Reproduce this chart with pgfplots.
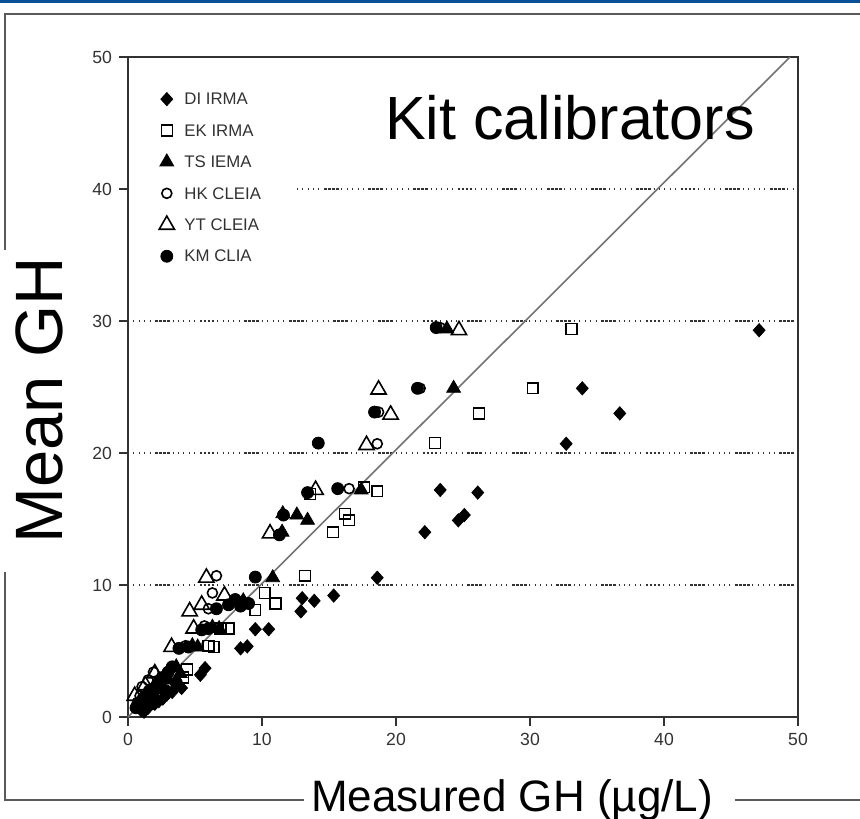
\documentclass[border=0pt]{standalone}
\usepackage{pgfplots}
\pgfplotsset{compat=1.18}
\usepackage{fontspec}
\setmainfont{Liberation Sans}
\setsansfont{Liberation Sans}
\definecolor{topblue}{RGB}{10,80,150}
\definecolor{framegray}{RGB}{90,90,90}
\definecolor{axgray}{RGB}{50,50,50}
\definecolor{linegray}{RGB}{115,115,115}
\begin{document}
\begin{tikzpicture}[x=1pt,y=1pt]
\path[use as bounding box] (-64,358.5) rectangle (366,-50.5);
\fill[topblue] (-64,358.5) rectangle (366,356.9);
\draw[framegray, line width=1pt] (366,351.5) -- (-61.5,351.5) -- (-61.5,-41.5) -- (366,-41.5);
\fill[white] (-64,233.5) rectangle (-19,72.5);
\fill[white] (88,-19.5) rectangle (303.5,-50.5);
\begin{axis}[
  anchor=south west,
  width=335pt, height=330pt, scale only axis,
  xmin=0, xmax=50, ymin=0, ymax=50,
  xtick={0,10,...,50}, ytick={0,10,...,50},
  xtick pos=bottom, ytick pos=left,
  tick align=outside, major tick length=4.5pt,
  axis line style={line width=0.9pt, axgray},
  tick style={line width=0.8pt, axgray},
  ticklabel style={font=\fontsize{8.8}{9}\selectfont, text=axgray},
  /pgf/number format/assume math mode=true,
  clip=false,
  legend cell align=left,
  legend image code/.code={\draw[#1] plot coordinates {(0pt,0pt)};},
  legend style={at={(0.037,0.956)}, anchor=north west, draw=none, fill=none,
    font=\fontsize{8.4}{9}\selectfont, text=axgray, row sep=7.0pt,
    nodes={inner sep=1pt, text height=6.2pt, text depth=0.5pt},
    /tikz/every even column/.append style={column sep=0pt},
    /tikz/every odd column/.append style={column sep=4pt}},
]
% grid lines
\addplot[forget plot, black!80, line width=0.6pt,
  dash pattern=on 0.5pt off 2.2pt on 0.5pt off 2.2pt on 0.5pt off 2.2pt on 0.5pt off 2.2pt on 0.5pt off 2.2pt on 1.4pt off 0.6pt on 1.4pt off 0.6pt on 1.4pt off 0.6pt on 1.4pt off 1.4pt]
  coordinates {(0,10) (50,10)};
\addplot[forget plot, black!80, line width=0.6pt,
  dash pattern=on 0.5pt off 2.2pt on 0.5pt off 2.2pt on 0.5pt off 2.2pt on 0.5pt off 2.2pt on 0.5pt off 2.2pt on 1.4pt off 0.6pt on 1.4pt off 0.6pt on 1.4pt off 0.6pt on 1.4pt off 1.4pt]
  coordinates {(0,20) (50,20)};
\addplot[forget plot, black!80, line width=0.6pt,
  dash pattern=on 0.5pt off 2.2pt on 0.5pt off 2.2pt on 0.5pt off 2.2pt on 0.5pt off 2.2pt on 0.5pt off 2.2pt on 1.4pt off 0.6pt on 1.4pt off 0.6pt on 1.4pt off 0.6pt on 1.4pt off 1.4pt]
  coordinates {(0,30) (50,30)};
\addplot[forget plot, black!80, line width=0.6pt,
  dash pattern=on 0.5pt off 2.2pt on 0.5pt off 2.2pt on 0.5pt off 2.2pt on 0.5pt off 2.2pt on 0.5pt off 2.2pt on 1.4pt off 0.6pt on 1.4pt off 0.6pt on 1.4pt off 0.6pt on 1.4pt off 1.4pt]
  coordinates {(12.6,40) (50,40)};
% identity line
\addplot[forget plot, linegray, line width=0.8pt] coordinates {(0,0) (49.4,50)};

% DI IRMA
\addplot[only marks, mark=diamond*, mark size=3.3pt, black, mark options={fill=black, xscale=1.2}] coordinates {
(47.1,29.3) (33.9,24.9) (36.7,23.0) (32.7,20.7) (23.3,17.2) (26.1,17.0)
(24.65,14.9) (25.1,15.3) (22.15,14.0) (18.6,10.55) (15.35,9.2) (13.0,9.0)
(13.9,8.8) (12.9,8.0) (9.5,6.65) (10.5,6.65) (8.4,5.2) (8.9,5.35)
(5.4,3.2) (5.75,3.7) (4.0,2.2) (3.3,1.9) (2.6,1.4) (2.0,1.0) (1.5,0.7) (1.0,0.5)
(3.6,2.5) (2.9,1.7) (2.3,1.2) (1.2,0.4)
};
\addlegendentry{DI IRMA}
% EK IRMA
\addplot[only marks, mark=square, mark size=2.7pt, black, mark options={fill=white, line width=0.7pt}] coordinates {
(33.1,29.4) (30.2,24.9) (26.2,23.0) (22.9,20.75) (18.6,17.1) (17.6,17.4)
(13.6,16.9) (16.2,15.4) (16.5,14.9) (15.3,14.0) (13.2,10.7) (10.2,9.4)
(11.0,8.6) (9.5,8.1) (7.5,6.7) (6.9,6.7) (6.0,5.4) (6.4,5.3) (4.1,3.0)
(4.4,3.6) (3.1,2.3) (2.7,1.8) (2.2,1.4) (1.6,1.0) (1.1,0.7)
};
\addlegendentry{EK IRMA}
% TS IEMA
\addplot[only marks, mark=triangle*, mark size=4pt, black, mark options={fill=black}] coordinates {
(23.8,29.4) (24.3,24.9) (17.4,17.2) (11.55,15.4) (12.6,15.3) (13.4,14.9)
(11.5,14.0) (10.8,10.55) (8.6,8.8) (6.8,6.7) (6.3,6.8) (5.2,5.3) (4.8,5.4)
(3.6,3.8) (2.5,2.4) (1.8,1.7) (1.2,1.1) (0.8,0.7) (3.0,2.8) (2.1,2.2)
(3.9,3.3) (1.5,1.4)
};
\addlegendentry{TS IEMA}
% HK CLEIA
\addplot[only marks, mark=o, mark size=2.5pt, black, mark options={fill=white, line width=0.8pt}] coordinates {
(23.3,29.5) (21.8,24.9) (18.7,23.1) (18.6,20.7) (16.5,17.3) (6.6,10.7)
(6.3,9.4) (6.0,8.2) (5.7,6.9) (4.3,5.4) (1.9,3.4) (1.5,2.8) (1.05,2.3)
(0.9,1.6) (0.7,1.1)
};
\addlegendentry{HK CLEIA}
% YT CLEIA
\addplot[only marks, mark=triangle, mark size=4.4pt, black, mark options={fill=white, line width=0.8pt}] coordinates {
(24.7,29.3) (18.7,24.8) (19.6,22.9) (17.8,20.6) (14.0,17.2) (10.6,13.9)
(5.85,10.55) (7.2,9.2) (5.5,8.5) (4.6,8.0) (4.9,6.7) (3.25,5.3) (2.0,3.3)
(1.3,2.4) (0.5,1.6) (0.8,1.0)
};
\addlegendentry{YT CLEIA}
% KM CLIA
\addplot[only marks, mark=*, mark size=3pt, black, mark options={fill=black}] coordinates {
(23.0,29.5) (21.6,24.9) (18.4,23.1) (14.2,20.75) (15.65,17.3) (13.4,17.0)
(11.6,15.3) (11.3,13.8) (9.5,10.6) (8.0,8.9) (9.0,8.6) (6.6,8.2) (7.5,8.5)
(8.4,8.4) (6.0,6.7) (5.5,6.6) (4.5,5.3) (3.8,5.2) (3.3,3.8) (2.6,3.0)
(2.3,2.6) (1.6,2.0) (1.2,1.5) (0.9,1.0) (0.6,0.7) (1.4,0.9) (2.8,2.0)
(3.6,2.6) (1.9,1.4) (2.1,2.3) (3.0,3.4)
};
\addlegendentry{KM CLIA}
\end{axis}
\node[anchor=base, font=\fontsize{30.5}{32}\selectfont] at (221,288.5) {Kit calibrators};
\node[anchor=base, rotate=90, font=\fontsize{33.5}{35}\selectfont] at (-33,158.5) {Mean GH};
\node[anchor=base, font=\fontsize{22}{24}\selectfont] at (192,-47) {Measured GH (µg/L)};
\end{tikzpicture}
\end{document}
